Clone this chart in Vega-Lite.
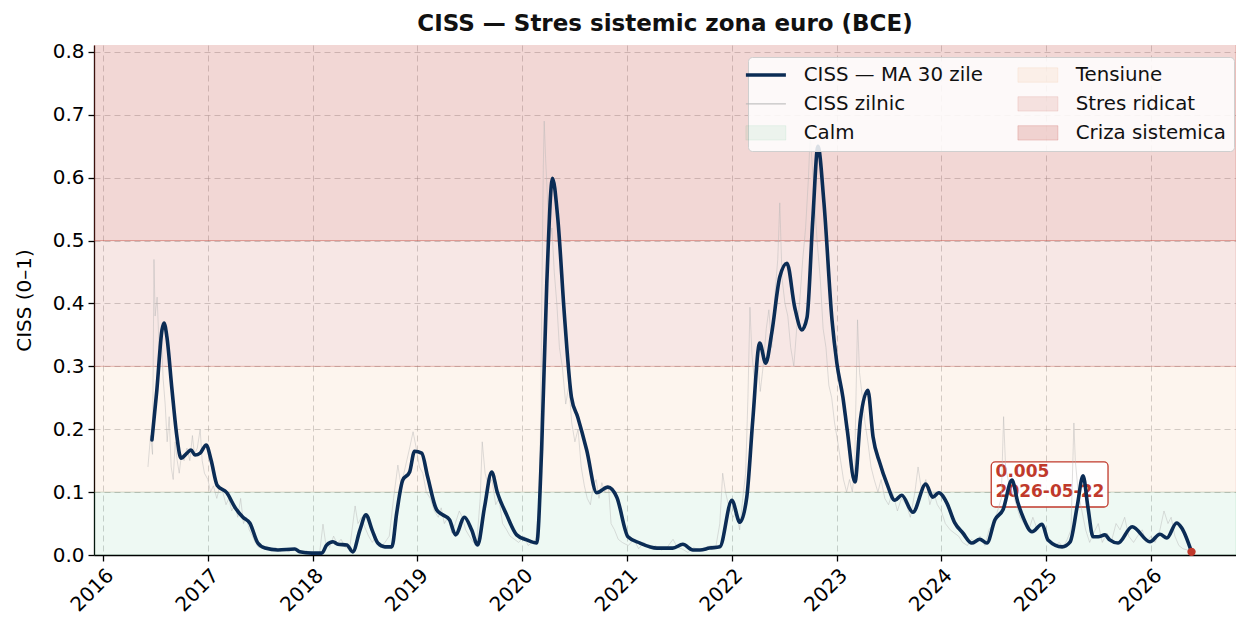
{
  "$schema": "https://vega.github.io/schema/vega-lite/v6.json",
  "width": 1142,
  "height": 510,
  "autosize": "none",
  "padding": {"left": 94, "top": 45, "right": 0, "bottom": 66},
  "background": "white",
  "title": {"text": "CISS — Stres sistemic zona euro (BCE)", "fontSize": 23, "fontWeight": "bold", "font": "DejaVu Sans", "color": "#111111", "anchor": "middle", "offset": 6},
  "config": {
    "font": "DejaVu Sans",
    "view": {"stroke": null},
    "axis": {"labelFont": "DejaVu Sans", "labelFontSize": 20, "labelColor": "#000000", "titleFont": "DejaVu Sans", "titleFontSize": 20, "titleFontWeight": "normal", "titleColor": "#000000", "domainColor": "#000000", "domainWidth": 1.3, "tickColor": "#000000", "tickWidth": 1.3, "tickSize": 6, "grid": true, "gridColor": "#9a9a9a", "gridOpacity": 0.45, "gridDash": [6, 4], "gridWidth": 1, "labelPadding": 4},
    "axisY": {"titlePadding": 18},
    "axisX": {"labelAngle": -45, "labelAlign": "right", "labelBaseline": "top"}
  },
  "datasets": {
    "bands": [
      {"zone": "Calm", "lo": 0, "hi": 0.1},
      {"zone": "Tensiune", "lo": 0.1, "hi": 0.3},
      {"zone": "Stres ridicat", "lo": 0.3, "hi": 0.5},
      {"zone": "Criza sistemica", "lo": 0.5, "hi": 1.0}
    ],
    "ma": [
      {"date": "2016-06-20", "v": 0.183}, {"date": "2016-07-07", "v": 0.262}, {"date": "2016-07-25", "v": 0.358}, {"date": "2016-08-01", "v": 0.369},
      {"date": "2016-08-11", "v": 0.347}, {"date": "2016-08-29", "v": 0.262}, {"date": "2016-09-15", "v": 0.188}, {"date": "2016-09-29", "v": 0.154},
      {"date": "2016-10-20", "v": 0.162}, {"date": "2016-11-03", "v": 0.167}, {"date": "2016-11-17", "v": 0.159}, {"date": "2016-12-05", "v": 0.162},
      {"date": "2016-12-26", "v": 0.175}, {"date": "2017-01-12", "v": 0.151}, {"date": "2017-02-02", "v": 0.111}, {"date": "2017-03-08", "v": 0.099},
      {"date": "2017-04-05", "v": 0.076}, {"date": "2017-05-03", "v": 0.060}, {"date": "2017-05-27", "v": 0.051}, {"date": "2017-06-24", "v": 0.019},
      {"date": "2017-07-19", "v": 0.011}, {"date": "2017-09-02", "v": 0.008}, {"date": "2017-10-31", "v": 0.0095}, {"date": "2017-11-17", "v": 0.005},
      {"date": "2017-12-29", "v": 0.003}, {"date": "2018-02-02", "v": 0.003}, {"date": "2018-02-19", "v": 0.016}, {"date": "2018-03-13", "v": 0.021},
      {"date": "2018-03-30", "v": 0.017}, {"date": "2018-04-30", "v": 0.016}, {"date": "2018-05-21", "v": 0.005}, {"date": "2018-06-15", "v": 0.040},
      {"date": "2018-07-06", "v": 0.064}, {"date": "2018-07-27", "v": 0.040}, {"date": "2018-08-16", "v": 0.019}, {"date": "2018-09-10", "v": 0.013},
      {"date": "2018-10-04", "v": 0.013}, {"date": "2018-10-21", "v": 0.067}, {"date": "2018-11-11", "v": 0.119}, {"date": "2018-12-05", "v": 0.132},
      {"date": "2018-12-22", "v": 0.165}, {"date": "2019-01-16", "v": 0.162}, {"date": "2019-02-06", "v": 0.124}, {"date": "2019-03-09", "v": 0.072},
      {"date": "2019-03-30", "v": 0.064}, {"date": "2019-04-23", "v": 0.056}, {"date": "2019-05-14", "v": 0.032}, {"date": "2019-06-14", "v": 0.060},
      {"date": "2019-07-09", "v": 0.040}, {"date": "2019-07-30", "v": 0.016}, {"date": "2019-08-23", "v": 0.076}, {"date": "2019-09-17", "v": 0.132},
      {"date": "2019-10-07", "v": 0.099}, {"date": "2019-11-08", "v": 0.064}, {"date": "2019-12-13", "v": 0.032}, {"date": "2020-01-17", "v": 0.024},
      {"date": "2020-02-21", "v": 0.019}, {"date": "2020-03-09", "v": 0.167}, {"date": "2020-03-27", "v": 0.432}, {"date": "2020-04-16", "v": 0.599},
      {"date": "2020-05-04", "v": 0.537}, {"date": "2020-05-28", "v": 0.378}, {"date": "2020-06-21", "v": 0.251}, {"date": "2020-07-13", "v": 0.219},
      {"date": "2020-08-13", "v": 0.167}, {"date": "2020-09-17", "v": 0.099}, {"date": "2020-10-26", "v": 0.108}, {"date": "2020-11-26", "v": 0.092},
      {"date": "2021-01-04", "v": 0.029}, {"date": "2021-02-15", "v": 0.019}, {"date": "2021-04-15", "v": 0.011}, {"date": "2021-06-09", "v": 0.011},
      {"date": "2021-07-14", "v": 0.017}, {"date": "2021-08-18", "v": 0.008}, {"date": "2021-09-12", "v": 0.008}, {"date": "2021-10-15", "v": 0.011},
      {"date": "2021-11-20", "v": 0.013}, {"date": "2022-01-01", "v": 0.087}, {"date": "2022-01-29", "v": 0.052}, {"date": "2022-02-22", "v": 0.092},
      {"date": "2022-03-15", "v": 0.215}, {"date": "2022-04-08", "v": 0.337}, {"date": "2022-04-29", "v": 0.305}, {"date": "2022-05-20", "v": 0.353},
      {"date": "2022-06-17", "v": 0.442}, {"date": "2022-07-12", "v": 0.464}, {"date": "2022-08-08", "v": 0.394}, {"date": "2022-09-02", "v": 0.358},
      {"date": "2022-09-20", "v": 0.378}, {"date": "2022-10-10", "v": 0.533}, {"date": "2022-10-28", "v": 0.650}, {"date": "2022-11-18", "v": 0.560},
      {"date": "2022-12-16", "v": 0.374}, {"date": "2023-01-02", "v": 0.305}, {"date": "2023-01-23", "v": 0.251}, {"date": "2023-02-07", "v": 0.199},
      {"date": "2023-03-06", "v": 0.116}, {"date": "2023-03-25", "v": 0.215}, {"date": "2023-04-20", "v": 0.262}, {"date": "2023-05-08", "v": 0.188},
      {"date": "2023-06-01", "v": 0.146}, {"date": "2023-06-25", "v": 0.114}, {"date": "2023-07-23", "v": 0.087}, {"date": "2023-08-16", "v": 0.095},
      {"date": "2023-09-24", "v": 0.068}, {"date": "2023-11-08", "v": 0.113}, {"date": "2023-12-02", "v": 0.092}, {"date": "2023-12-23", "v": 0.099},
      {"date": "2024-01-20", "v": 0.083}, {"date": "2024-02-17", "v": 0.051}, {"date": "2024-03-16", "v": 0.035}, {"date": "2024-04-16", "v": 0.019},
      {"date": "2024-05-14", "v": 0.025}, {"date": "2024-06-08", "v": 0.019}, {"date": "2024-07-06", "v": 0.056}, {"date": "2024-08-03", "v": 0.072},
      {"date": "2024-09-03", "v": 0.119}, {"date": "2024-09-24", "v": 0.083}, {"date": "2024-10-12", "v": 0.060}, {"date": "2024-11-12", "v": 0.037},
      {"date": "2024-12-17", "v": 0.049}, {"date": "2025-01-07", "v": 0.024}, {"date": "2025-02-25", "v": 0.013}, {"date": "2025-03-25", "v": 0.021},
      {"date": "2025-04-18", "v": 0.076}, {"date": "2025-05-09", "v": 0.126}, {"date": "2025-05-26", "v": 0.076}, {"date": "2025-06-13", "v": 0.029},
      {"date": "2025-07-01", "v": 0.029}, {"date": "2025-07-24", "v": 0.032}, {"date": "2025-08-10", "v": 0.024}, {"date": "2025-09-08", "v": 0.019},
      {"date": "2025-10-27", "v": 0.045}, {"date": "2025-12-28", "v": 0.021}, {"date": "2026-02-01", "v": 0.033}, {"date": "2026-02-25", "v": 0.027},
      {"date": "2026-03-31", "v": 0.051}, {"date": "2026-04-18", "v": 0.043}, {"date": "2026-05-22", "v": 0.005}
    ],
    "daily": [
      {"date": "2016-06-06", "v": 0.14}, {"date": "2016-06-15", "v": 0.19}, {"date": "2016-06-22", "v": 0.16}, {"date": "2016-06-27", "v": 0.47},
      {"date": "2016-07-01", "v": 0.38}, {"date": "2016-07-08", "v": 0.41}, {"date": "2016-07-15", "v": 0.33}, {"date": "2016-07-22", "v": 0.36},
      {"date": "2016-07-29", "v": 0.28}, {"date": "2016-08-05", "v": 0.24}, {"date": "2016-08-12", "v": 0.18}, {"date": "2016-08-19", "v": 0.22},
      {"date": "2016-08-26", "v": 0.14}, {"date": "2016-09-02", "v": 0.12}, {"date": "2016-09-09", "v": 0.18}, {"date": "2016-09-16", "v": 0.15},
      {"date": "2016-09-23", "v": 0.13}, {"date": "2016-10-01", "v": 0.16}, {"date": "2016-10-10", "v": 0.15}, {"date": "2016-10-20", "v": 0.17},
      {"date": "2016-10-30", "v": 0.15}, {"date": "2016-11-08", "v": 0.19}, {"date": "2016-11-15", "v": 0.16}, {"date": "2016-11-25", "v": 0.17},
      {"date": "2016-12-05", "v": 0.20}, {"date": "2016-12-12", "v": 0.15}, {"date": "2016-12-20", "v": 0.13}, {"date": "2017-01-01", "v": 0.12},
      {"date": "2017-01-10", "v": 0.10}, {"date": "2017-01-20", "v": 0.11}, {"date": "2017-02-01", "v": 0.09}, {"date": "2017-02-12", "v": 0.11},
      {"date": "2017-02-22", "v": 0.10}, {"date": "2017-03-05", "v": 0.08}, {"date": "2017-03-15", "v": 0.09}, {"date": "2017-03-25", "v": 0.07},
      {"date": "2017-04-05", "v": 0.08}, {"date": "2017-04-15", "v": 0.06}, {"date": "2017-04-25", "v": 0.09}, {"date": "2017-05-05", "v": 0.05},
      {"date": "2017-05-15", "v": 0.06}, {"date": "2017-05-25", "v": 0.04}, {"date": "2017-06-05", "v": 0.03}, {"date": "2017-06-15", "v": 0.02},
      {"date": "2017-06-25", "v": 0.013}, {"date": "2017-07-10", "v": 0.01}, {"date": "2017-07-25", "v": 0.014}, {"date": "2017-08-10", "v": 0.008},
      {"date": "2017-08-25", "v": 0.012}, {"date": "2017-09-10", "v": 0.006}, {"date": "2017-09-25", "v": 0.009}, {"date": "2017-10-10", "v": 0.005},
      {"date": "2017-10-25", "v": 0.01}, {"date": "2017-11-10", "v": 0.006}, {"date": "2017-11-25", "v": 0.004}, {"date": "2017-12-10", "v": 0.007},
      {"date": "2017-12-25", "v": 0.003}, {"date": "2018-01-10", "v": 0.004}, {"date": "2018-01-25", "v": 0.002}, {"date": "2018-02-06", "v": 0.049},
      {"date": "2018-02-15", "v": 0.02}, {"date": "2018-03-01", "v": 0.012}, {"date": "2018-03-15", "v": 0.03}, {"date": "2018-03-28", "v": 0.018},
      {"date": "2018-04-10", "v": 0.025}, {"date": "2018-04-25", "v": 0.012}, {"date": "2018-05-10", "v": 0.01}, {"date": "2018-05-29", "v": 0.078},
      {"date": "2018-06-08", "v": 0.05}, {"date": "2018-06-20", "v": 0.06}, {"date": "2018-07-01", "v": 0.045}, {"date": "2018-07-15", "v": 0.03},
      {"date": "2018-07-28", "v": 0.02}, {"date": "2018-08-10", "v": 0.03}, {"date": "2018-08-25", "v": 0.012}, {"date": "2018-09-10", "v": 0.02},
      {"date": "2018-09-25", "v": 0.03}, {"date": "2018-10-10", "v": 0.09}, {"date": "2018-10-25", "v": 0.143}, {"date": "2018-11-05", "v": 0.11},
      {"date": "2018-11-20", "v": 0.14}, {"date": "2018-12-05", "v": 0.17}, {"date": "2018-12-17", "v": 0.196}, {"date": "2018-12-28", "v": 0.17},
      {"date": "2019-01-08", "v": 0.14}, {"date": "2019-01-20", "v": 0.13}, {"date": "2019-02-01", "v": 0.10}, {"date": "2019-02-15", "v": 0.09},
      {"date": "2019-03-01", "v": 0.07}, {"date": "2019-03-15", "v": 0.06}, {"date": "2019-03-25", "v": 0.075}, {"date": "2019-04-05", "v": 0.05},
      {"date": "2019-04-18", "v": 0.06}, {"date": "2019-05-01", "v": 0.035}, {"date": "2019-05-13", "v": 0.05}, {"date": "2019-05-27", "v": 0.07},
      {"date": "2019-06-07", "v": 0.06}, {"date": "2019-06-18", "v": 0.04}, {"date": "2019-07-01", "v": 0.03}, {"date": "2019-07-15", "v": 0.02},
      {"date": "2019-07-28", "v": 0.025}, {"date": "2019-08-08", "v": 0.09}, {"date": "2019-08-15", "v": 0.18}, {"date": "2019-08-25", "v": 0.13},
      {"date": "2019-09-05", "v": 0.11}, {"date": "2019-09-18", "v": 0.12}, {"date": "2019-10-01", "v": 0.08}, {"date": "2019-10-12", "v": 0.09},
      {"date": "2019-10-25", "v": 0.05}, {"date": "2019-11-08", "v": 0.04}, {"date": "2019-11-20", "v": 0.03}, {"date": "2019-12-05", "v": 0.025},
      {"date": "2019-12-20", "v": 0.02}, {"date": "2020-01-08", "v": 0.03}, {"date": "2020-01-22", "v": 0.015}, {"date": "2020-02-05", "v": 0.02},
      {"date": "2020-02-18", "v": 0.025}, {"date": "2020-02-28", "v": 0.08}, {"date": "2020-03-05", "v": 0.20}, {"date": "2020-03-10", "v": 0.42},
      {"date": "2020-03-15", "v": 0.62}, {"date": "2020-03-18", "v": 0.69}, {"date": "2020-03-23", "v": 0.63}, {"date": "2020-03-30", "v": 0.56},
      {"date": "2020-04-06", "v": 0.50}, {"date": "2020-04-14", "v": 0.52}, {"date": "2020-04-22", "v": 0.45}, {"date": "2020-05-01", "v": 0.40},
      {"date": "2020-05-10", "v": 0.33}, {"date": "2020-05-20", "v": 0.30}, {"date": "2020-06-01", "v": 0.24}, {"date": "2020-06-12", "v": 0.27},
      {"date": "2020-06-22", "v": 0.21}, {"date": "2020-07-03", "v": 0.18}, {"date": "2020-07-14", "v": 0.20}, {"date": "2020-07-25", "v": 0.14},
      {"date": "2020-08-05", "v": 0.11}, {"date": "2020-08-15", "v": 0.09}, {"date": "2020-08-26", "v": 0.08}, {"date": "2020-09-05", "v": 0.11},
      {"date": "2020-09-15", "v": 0.12}, {"date": "2020-09-25", "v": 0.09}, {"date": "2020-10-05", "v": 0.115}, {"date": "2020-10-15", "v": 0.10},
      {"date": "2020-10-28", "v": 0.11}, {"date": "2020-11-06", "v": 0.05}, {"date": "2020-11-18", "v": 0.04}, {"date": "2020-12-01", "v": 0.025},
      {"date": "2020-12-15", "v": 0.02}, {"date": "2021-01-05", "v": 0.015}, {"date": "2021-01-25", "v": 0.025}, {"date": "2021-02-10", "v": 0.01},
      {"date": "2021-03-01", "v": 0.02}, {"date": "2021-03-20", "v": 0.01}, {"date": "2021-04-10", "v": 0.015}, {"date": "2021-05-01", "v": 0.008},
      {"date": "2021-05-20", "v": 0.012}, {"date": "2021-06-10", "v": 0.025}, {"date": "2021-06-25", "v": 0.012}, {"date": "2021-07-10", "v": 0.01},
      {"date": "2021-08-01", "v": 0.004}, {"date": "2021-08-20", "v": 0.012}, {"date": "2021-09-10", "v": 0.008}, {"date": "2021-10-01", "v": 0.012},
      {"date": "2021-10-20", "v": 0.015}, {"date": "2021-11-05", "v": 0.01}, {"date": "2021-11-20", "v": 0.05}, {"date": "2021-11-30", "v": 0.13},
      {"date": "2021-12-10", "v": 0.10}, {"date": "2021-12-20", "v": 0.08}, {"date": "2022-01-05", "v": 0.06}, {"date": "2022-01-18", "v": 0.07},
      {"date": "2022-01-28", "v": 0.04}, {"date": "2022-02-08", "v": 0.09}, {"date": "2022-02-18", "v": 0.13}, {"date": "2022-02-26", "v": 0.25},
      {"date": "2022-03-05", "v": 0.394}, {"date": "2022-03-12", "v": 0.32}, {"date": "2022-03-22", "v": 0.27}, {"date": "2022-04-01", "v": 0.31},
      {"date": "2022-04-10", "v": 0.26}, {"date": "2022-04-20", "v": 0.30}, {"date": "2022-05-01", "v": 0.36}, {"date": "2022-05-10", "v": 0.39},
      {"date": "2022-05-20", "v": 0.33}, {"date": "2022-06-01", "v": 0.42}, {"date": "2022-06-10", "v": 0.47}, {"date": "2022-06-17", "v": 0.56},
      {"date": "2022-06-25", "v": 0.44}, {"date": "2022-07-05", "v": 0.40}, {"date": "2022-07-15", "v": 0.38}, {"date": "2022-07-25", "v": 0.33},
      {"date": "2022-08-05", "v": 0.30}, {"date": "2022-08-15", "v": 0.36}, {"date": "2022-08-25", "v": 0.40}, {"date": "2022-09-05", "v": 0.47},
      {"date": "2022-09-15", "v": 0.52}, {"date": "2022-09-25", "v": 0.60}, {"date": "2022-10-01", "v": 0.67}, {"date": "2022-10-08", "v": 0.62},
      {"date": "2022-10-15", "v": 0.57}, {"date": "2022-10-25", "v": 0.50}, {"date": "2022-11-05", "v": 0.44}, {"date": "2022-11-15", "v": 0.36},
      {"date": "2022-11-25", "v": 0.33}, {"date": "2022-12-05", "v": 0.27}, {"date": "2022-12-15", "v": 0.25}, {"date": "2022-12-25", "v": 0.21},
      {"date": "2023-01-05", "v": 0.18}, {"date": "2023-01-15", "v": 0.15}, {"date": "2023-01-25", "v": 0.12}, {"date": "2023-02-05", "v": 0.10},
      {"date": "2023-02-15", "v": 0.12}, {"date": "2023-02-25", "v": 0.10}, {"date": "2023-03-05", "v": 0.14}, {"date": "2023-03-10", "v": 0.26},
      {"date": "2023-03-15", "v": 0.374}, {"date": "2023-03-22", "v": 0.29}, {"date": "2023-04-01", "v": 0.25}, {"date": "2023-04-10", "v": 0.21},
      {"date": "2023-04-20", "v": 0.18}, {"date": "2023-05-01", "v": 0.14}, {"date": "2023-05-12", "v": 0.12}, {"date": "2023-05-25", "v": 0.10},
      {"date": "2023-06-05", "v": 0.12}, {"date": "2023-06-18", "v": 0.09}, {"date": "2023-07-01", "v": 0.08}, {"date": "2023-07-15", "v": 0.10},
      {"date": "2023-08-01", "v": 0.07}, {"date": "2023-08-15", "v": 0.09}, {"date": "2023-09-01", "v": 0.08}, {"date": "2023-09-15", "v": 0.06},
      {"date": "2023-10-01", "v": 0.10}, {"date": "2023-10-12", "v": 0.14}, {"date": "2023-10-25", "v": 0.10}, {"date": "2023-11-08", "v": 0.12},
      {"date": "2023-11-22", "v": 0.08}, {"date": "2023-12-05", "v": 0.10}, {"date": "2023-12-18", "v": 0.08}, {"date": "2024-01-01", "v": 0.07},
      {"date": "2024-01-15", "v": 0.05}, {"date": "2024-02-01", "v": 0.04}, {"date": "2024-02-15", "v": 0.035}, {"date": "2024-03-01", "v": 0.03},
      {"date": "2024-03-15", "v": 0.02}, {"date": "2024-04-01", "v": 0.015}, {"date": "2024-04-15", "v": 0.025}, {"date": "2024-05-01", "v": 0.02},
      {"date": "2024-05-15", "v": 0.03}, {"date": "2024-06-01", "v": 0.015}, {"date": "2024-06-15", "v": 0.04}, {"date": "2024-07-01", "v": 0.05},
      {"date": "2024-07-15", "v": 0.07}, {"date": "2024-07-28", "v": 0.09}, {"date": "2024-08-05", "v": 0.22}, {"date": "2024-08-12", "v": 0.14},
      {"date": "2024-08-25", "v": 0.11}, {"date": "2024-09-05", "v": 0.10}, {"date": "2024-09-18", "v": 0.08}, {"date": "2024-10-01", "v": 0.06},
      {"date": "2024-10-15", "v": 0.05}, {"date": "2024-11-01", "v": 0.04}, {"date": "2024-11-15", "v": 0.06}, {"date": "2024-12-01", "v": 0.04},
      {"date": "2024-12-15", "v": 0.05}, {"date": "2025-01-01", "v": 0.03}, {"date": "2025-01-15", "v": 0.02}, {"date": "2025-02-01", "v": 0.015},
      {"date": "2025-02-15", "v": 0.02}, {"date": "2025-03-01", "v": 0.012}, {"date": "2025-03-15", "v": 0.025}, {"date": "2025-03-28", "v": 0.04},
      {"date": "2025-04-07", "v": 0.21}, {"date": "2025-04-12", "v": 0.15}, {"date": "2025-04-22", "v": 0.10}, {"date": "2025-05-05", "v": 0.07},
      {"date": "2025-05-18", "v": 0.04}, {"date": "2025-06-01", "v": 0.02}, {"date": "2025-06-15", "v": 0.035}, {"date": "2025-07-01", "v": 0.05},
      {"date": "2025-07-15", "v": 0.02}, {"date": "2025-08-01", "v": 0.035}, {"date": "2025-08-15", "v": 0.02}, {"date": "2025-09-01", "v": 0.05},
      {"date": "2025-09-15", "v": 0.04}, {"date": "2025-10-01", "v": 0.06}, {"date": "2025-10-15", "v": 0.03}, {"date": "2025-11-01", "v": 0.02},
      {"date": "2025-11-15", "v": 0.03}, {"date": "2025-12-01", "v": 0.04}, {"date": "2025-12-15", "v": 0.02}, {"date": "2026-01-01", "v": 0.03},
      {"date": "2026-01-15", "v": 0.02}, {"date": "2026-02-01", "v": 0.04}, {"date": "2026-02-15", "v": 0.07}, {"date": "2026-03-01", "v": 0.05},
      {"date": "2026-03-12", "v": 0.06}, {"date": "2026-03-25", "v": 0.03}, {"date": "2026-04-08", "v": 0.015}, {"date": "2026-04-22", "v": 0.01},
      {"date": "2026-05-08", "v": 0.008}, {"date": "2026-05-22", "v": 0.005}
    ]
  },
  "layer": [
    {
      "data": {"name": "bands"},
      "mark": {"type": "rect", "clip": true, "strokeWidth": 1},
      "encoding": {
        "y": {"field": "lo", "type": "quantitative", "title": "CISS (0–1)",
              "scale": {"domain": [0, 0.811], "nice": false, "zero": true},
              "axis": {"values": [0, 0.1, 0.2, 0.3, 0.4, 0.5, 0.6, 0.7, 0.8], "format": ".1f"}},
        "y2": {"field": "hi"},
        "color": {
          "field": "zone", "type": "nominal",
          "scale": {
            "domain": ["CISS — MA 30 zile", "CISS zilnic", "Calm", "Tensiune", "Stres ridicat", "Criza sistemica"],
            "range": ["#0b2c55", "#b5b5b5", "rgba(39,174,96,0.08)", "rgba(230,126,34,0.08)", "rgba(192,57,43,0.12)", "rgba(192,57,43,0.2)"]
          },
          "legend": {
            "orient": "none", "legendX": 654, "legendY": 12, "columns": 2, "title": null,
            "symbolType": "stroke", "symbolSize": 1600, "symbolOpacity": 1,
            "labelFont": "DejaVu Sans", "labelFontSize": 19.8, "labelColor": "#111111", "labelLimit": 400,
            "labelOffset": 28, "columnPadding": 32, "rowPadding": 8, "padding": 8,
            "fillColor": "rgba(255,255,255,0.85)", "strokeColor": "#cfcfcf", "cornerRadius": 4,
            "encode": {
              "symbols": {
                "update": {
                  "shape": {"signal": "datum.value === 'CISS — MA 30 zile' || datum.value === 'CISS zilnic' ? 'stroke' : 'M-1,-0.36H1V0.36H-1Z'"},
                  "strokeWidth": {"signal": "datum.value === 'CISS — MA 30 zile' ? 3.5 : 1"},
                  "stroke": {"signal": "datum.value === 'CISS — MA 30 zile' ? '#0b2c55' : datum.value === 'CISS zilnic' ? '#cccccc' : datum.value === 'Calm' ? 'rgba(39,174,96,0.15)' : datum.value === 'Tensiune' ? 'rgba(230,126,34,0.15)' : 'rgba(192,57,43,0.22)'"},
                  "fill": {"signal": "datum.value === 'Calm' ? 'rgba(39,174,96,0.09)' : datum.value === 'Tensiune' ? 'rgba(230,126,34,0.09)' : datum.value === 'Stres ridicat' ? 'rgba(192,57,43,0.12)' : datum.value === 'Criza sistemica' ? 'rgba(192,57,43,0.2)' : 'transparent'"},
                  "opacity": {"value": 1}
                }
              }
            }
          }
        },
        "stroke": {
          "field": "zone", "type": "nominal", "legend": null,
          "scale": {"domain": ["Calm", "Tensiune", "Stres ridicat", "Criza sistemica"],
                    "range": ["rgba(39,174,96,0.15)", "rgba(192,57,43,0.12)", "rgba(192,57,43,0.2)", "rgba(192,57,43,0.3)"]}
        }
      }
    },
    {
      "data": {"values": [{"label": "0.005\n2026-05-22"}]},
      "mark": {"type": "rect", "fill": "white", "fillOpacity": 0.9, "stroke": "#c0392b", "strokeWidth": 1.3, "cornerRadius": 4},
      "encoding": {
        "x": {"datum": {"year": 2024, "month": 6, "date": 23, "utc": true}, "type": "temporal",
              "scale": {"type": "utc", "domain": [{"year": 2015, "month": 12, "date": 1, "utc": true}, {"year": 2026, "month": 10, "date": 24, "utc": true}]}},
        "x2": {"datum": {"year": 2025, "month": 8, "date": 4, "utc": true}},
        "y": {"datum": 0.148, "type": "quantitative", "title": "CISS (0–1)"},
        "y2": {"datum": 0.0763}
      }
    },
    {
      "data": {"values": [{"label": "0.005\n2026-05-22"}]},
      "mark": {"type": "text", "align": "left", "baseline": "top", "fontSize": 17, "fontWeight": "bold", "color": "#c0392b", "lineBreak": "\n", "lineHeight": 20, "font": "DejaVu Sans"},
      "encoding": {
        "x": {"datum": {"year": 2024, "month": 7, "date": 8, "utc": true}, "type": "temporal"},
        "y": {"datum": 0.145, "type": "quantitative", "title": "CISS (0–1)"},
        "text": {"field": "label"}
      }
    },
    {
      "data": {"name": "daily"},
      "mark": {"type": "line", "strokeWidth": 0.9, "opacity": 0.5},
      "encoding": {
        "x": {"field": "date", "type": "temporal", "title": null,
              "scale": {"type": "utc", "domain": [{"year": 2015, "month": 12, "date": 1, "utc": true}, {"year": 2026, "month": 10, "date": 24, "utc": true}]},
              "axis": {"format": "%Y", "tickCount": {"interval": "year", "step": 1}}},
        "y": {"field": "v", "type": "quantitative", "title": "CISS (0–1)"},
        "color": {"datum": "CISS zilnic"}
      }
    },
    {
      "data": {"name": "ma"},
      "mark": {"type": "line", "strokeWidth": 3.6, "interpolate": "monotone", "strokeCap": "round", "strokeJoin": "round"},
      "encoding": {
        "x": {"field": "date", "type": "temporal", "title": null},
        "y": {"field": "v", "type": "quantitative", "title": "CISS (0–1)"},
        "color": {"datum": "CISS — MA 30 zile"}
      }
    },
    {
      "data": {"values": [{"date": "2026-05-22", "v": 0.005}]},
      "mark": {"type": "circle", "color": "#c0392b", "size": 70, "opacity": 1},
      "encoding": {
        "x": {"field": "date", "type": "temporal", "title": null},
        "y": {"field": "v", "type": "quantitative", "title": "CISS (0–1)"}
      }
    }
  ]
}
